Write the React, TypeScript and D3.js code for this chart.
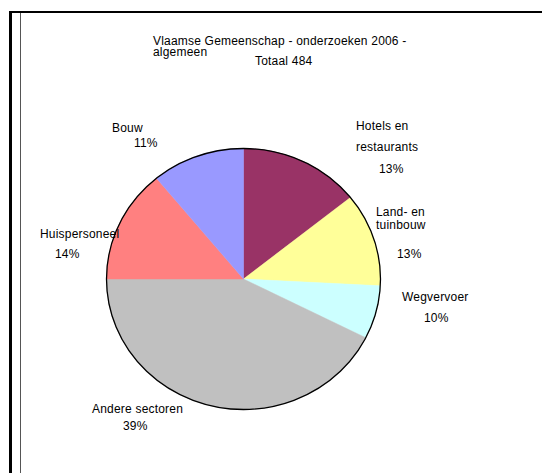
import * as d3 from "d3";

// slices clockwise from 12 o'clock
const sectors = ["Hotels en restaurants", "Land- en tuinbouw", "Wegvervoer", "Andere sectoren", "Huispersoneel", "Bouw"];
// counts (total 484)
const counts = [69, 56, 32, 206, 68, 53];
const pctLabels = ["13%", "13%", "10%", "39%", "14%", "11%"];
const colors = ["#993366", "#FFFF99", "#CCFFFF", "#C0C0C0", "#FF8080", "#9999FF"];

const titleLines = ["Vlaamse Gemeenschap - onderzoeken 2006 -", "algemeen"];
const subtitle = "Totaal 484";

// label text boxes as Excel placed them (lines of text: [text, x, baseline])
const labelLayout: [string, number, number][][] = [
    [["Hotels en", 356, 130], ["restaurants", 356, 151], ["%", 379, 173]],
    [["Land- en", 376, 216], ["tuinbouw", 376, 229], ["%", 397, 258]],
    [["Wegvervoer", 402, 301], ["%", 424, 322]],
    [["Andere sectoren", 92, 413], ["%", 123, 430]],
    [["Huispersoneel", 40, 238], ["%", 55, 258]],
    [["Bouw", 112, 132], ["%", 134, 147]],
];

const W = 542, H = 473;
const cx = 243.5, cy = 279, rx = 137, ry = 130.5;
const font = "'Liberation Sans', Arial, sans-serif";

export default function App() {
    const pie = d3.pie<number>().sort(null).value(d => d)(counts);
    const arc = d3.arc<d3.PieArcDatum<number>>().innerRadius(0).outerRadius(ry);

    return <svg width={W} height={H} viewBox={`0 0 ${W} ${H}`}
                style={{position: "absolute", left: 0, top: 0, background: "#fff"}}>
        {/* frame */}
        <line x1={9} y1={12} x2={W} y2={12} stroke="#000" strokeWidth={2}/>
        <line x1={10.5} y1={11} x2={10.5} y2={H} stroke="#000" strokeWidth={3}/>
        <line x1={20.5} y1={13} x2={20.5} y2={H} stroke="#555" strokeWidth={1}/>

        <g fontFamily={font} fontSize={12} letterSpacing={0.2} fill="#000">
            <text x={153} y={45}>{titleLines[0]}</text>
            <text x={153} y={56}>{titleLines[1]}</text>
            <text x={255} y={65}>{subtitle}</text>
        </g>

        <g transform={`translate(${cx},${cy}) scale(${rx / ry},1)`}>
            {pie.map((p, i) =>
                <path key={sectors[i]} d={arc(p) ?? ""} fill={colors[i]} stroke={colors[i]}
                      strokeWidth={0.5} vectorEffect="non-scaling-stroke"/>)}
            <circle r={ry} fill="none" stroke="#000" strokeWidth={1.3} vectorEffect="non-scaling-stroke"/>
        </g>

        <g fontFamily={font} fontSize={12} letterSpacing={0.2} fill="#000">
            {labelLayout.map((lines, i) => lines.map(([t, x, y], j) =>
                <text key={`${i}-${j}`} x={x} y={y}>{t === "%" ? pctLabels[i] : t}</text>))}
        </g>
    </svg>;
}
